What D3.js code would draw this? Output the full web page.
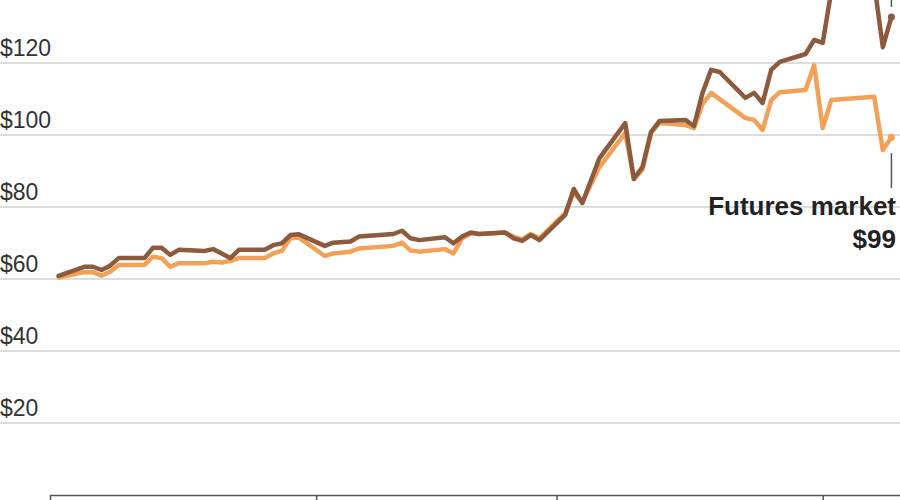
<!DOCTYPE html>
<html>
<head>
<meta charset="utf-8">
<script src="https://cdn.jsdelivr.net/npm/d3@7"></script>
<style>
  body { margin: 0; background: #fff; }
  svg { display: block; font-family: "Liberation Sans", Arial, Helvetica, sans-serif; }
  .gridLabel { font-size: 23px; fill: #333; }
  .note { font-size: 26px; font-weight: bold; fill: #222; }
</style>
</head>
<body>
<div id="chart"></div>
<script>
// trading days, 2009
var dates = [
  "2009-01-02","2009-01-05","2009-01-06","2009-01-07","2009-01-08","2009-01-09",
  "2009-01-12","2009-01-13","2009-01-14","2009-01-15","2009-01-16",
  "2009-01-19","2009-01-20","2009-01-21","2009-01-22","2009-01-23",
  "2009-01-26","2009-01-27","2009-01-28","2009-01-29","2009-01-30",
  "2009-02-02","2009-02-03","2009-02-05","2009-02-06",
  "2009-02-10","2009-02-11","2009-02-12","2009-02-13",
  "2009-02-16","2009-02-17","2009-02-18","2009-02-19","2009-02-20",
  "2009-02-23","2009-02-24","2009-02-25","2009-02-26","2009-02-27",
  "2009-03-02","2009-03-03","2009-03-04","2009-03-06",
  "2009-03-09","2009-03-10","2009-03-11","2009-03-12","2009-03-13",
  "2009-03-16","2009-03-17","2009-03-18","2009-03-19","2009-03-20",
  "2009-03-23","2009-03-24","2009-03-25","2009-03-26","2009-03-27",
  "2009-03-30","2009-03-31","2009-04-01","2009-04-02",
  "2009-04-07","2009-04-08","2009-04-09"
];

// upper (brown) line
var spotPrice = [
  60.9, 63.4, 63.4, 62.5, 63.7, 65.8,
  65.8, 68.7, 68.7, 66.7, 68.1,
  67.8, 68.3, 67.1, 65.8, 68.1,
  68.1, 69.4, 69.9, 72.2, 72.4,
  69.2, 70.1, 70.4, 71.8,
  72.5, 73.4, 71.3, 70.8,
  71.6, 69.9, 71.8, 72.9, 72.5,
  72.9, 71.3, 70.6, 72.2, 70.8,
  77.8, 85.0, 81.1, 93.6,
  103.3, 87.8, 91.1, 100.8, 103.9,
  104.2, 102.5, 111.7, 118.1, 117.5,
  110.3, 111.7, 108.9, 118.1, 120.3,
  122.5, 126.4, 125.6, 140,
  142, 124.4, 132.8
];

// futures market (orange) line
var futuresPrice = [
  60.4, 61.9, 61.9, 60.9, 62.0, 63.9,
  63.9, 66.2, 65.8, 63.4, 64.4,
  64.4, 64.8, 64.6, 65.0, 65.8,
  65.8, 67.1, 67.8, 71.3, 71.5,
  66.4, 67.1, 67.6, 68.5,
  69.2, 70.1, 67.9, 67.6,
  68.3, 67.1, 71.3, 72.7, 72.5,
  72.9, 71.8, 71.0, 72.5, 71.3,
  78.3, 83.9, 81.4, 91.1,
  100.6, 87.8, 90.3, 100.6, 103.3,
  102.8, 101.9, 108.6, 111.7, null,
  104.7, 104.2, 101.4, 109.7, 111.9,
  112.5, 119.4, 101.9, 109.7,
  110.6, 95.8, 99.4
];

var yTicks = [20, 40, 60, 80, 100, 120];
var futuresLabel = ["Futures market", "$99"];

var svgWidth = 900;
var svgHeight = 500;

var svg = d3.select("#chart")
    .append("svg")
    .attr("width", svgWidth)
    .attr("height", svgHeight);

var parseDate = d3.utcParse("%Y-%m-%d");

var xScale = d3.scaleUtc()
    .domain([Date.UTC(2009, 0, 1), Date.UTC(2009, 3, 10)])
    .range([50, 900]);

var yScale = d3.scaleLinear()
    .domain([0, 140])
    .range([495, -9]);

// gridlines + dollar labels
var grid = svg.append("g");
grid.selectAll("line")
    .data(yTicks)
    .enter()
    .append("line")
    .attr("x1", 0)
    .attr("x2", svgWidth)
    .attr("y1", d => yScale(d))
    .attr("y2", d => yScale(d))
    .attr("stroke", "#d2d2d2")
    .attr("stroke-width", 1.5);

grid.selectAll("text")
    .data(yTicks)
    .enter()
    .append("text")
    .attr("class", "gridLabel")
    .attr("x", 0)
    .attr("y", d => yScale(d) - 7)
    .text(d => "$" + d);

// bottom axis, month separators
var bottomAxis = d3.axisBottom(xScale)
    .ticks(d3.utcMonth.every(1))
    .tickFormat("")
    .tickSize(10)
    .tickSizeOuter(0);

var xAxis = svg.append("g")
    .attr("transform", `translate(0, ${yScale(0)})`)
    .call(bottomAxis);
xAxis.select(".domain").attr("stroke", "#555").attr("stroke-width", 1.5);
xAxis.selectAll(".tick line").attr("stroke", "#555").attr("stroke-width", 1.5);

function toPoints(values) {
  return dates.map((d, i) => ({date: parseDate(d), value: values[i]}))
    .filter(p => p.value != null);
}

var line = d3.line()
    .x(d => xScale(d.date))
    .y(d => yScale(d.value));

var series = [
  {points: toPoints(futuresPrice), color: "#f3a157"},
  {points: toPoints(spotPrice), color: "#8d5a3d"}
];

series.forEach(function(s) {
  svg.append("path")
    .datum(s.points)
    .attr("fill", "none")
    .attr("stroke", s.color)
    .attr("stroke-width", 4.5)
    .attr("stroke-linejoin", "round")
    .attr("stroke-linecap", "round")
    .attr("d", line);

  var last = s.points[s.points.length - 1];
  svg.append("circle")
    .attr("cx", xScale(last.date))
    .attr("cy", yScale(last.value))
    .attr("r", 3.5)
    .attr("fill", s.color);
});

// leader lines at the last date
var lastSpot = toPoints(spotPrice).pop();
var lastFut = toPoints(futuresPrice).pop();
var xEnd = xScale(lastFut.date);

svg.append("line")
    .attr("x1", xEnd).attr("x2", xEnd)
    .attr("y1", -5).attr("y2", yScale(lastSpot.value) - 10)
    .attr("stroke", "#555").attr("stroke-width", 1.5);

svg.append("line")
    .attr("x1", xEnd).attr("x2", xEnd)
    .attr("y1", yScale(lastFut.value) + 16).attr("y2", 188)
    .attr("stroke", "#555").attr("stroke-width", 1.5);

svg.append("text")
    .attr("class", "note")
    .attr("text-anchor", "end")
    .selectAll("tspan")
    .data(futuresLabel)
    .enter()
    .append("tspan")
    .attr("x", 896)
    .attr("y", (d, i) => 215 + i * 33)
    .text(d => d);
</script>
</body>
</html>
